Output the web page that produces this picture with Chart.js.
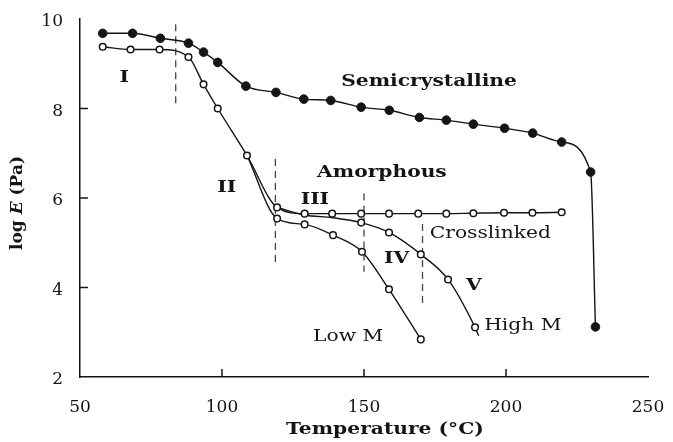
<!DOCTYPE html>
<html><head><meta charset="utf-8">
<script src="https://cdn.jsdelivr.net/npm/chart.js@4/dist/chart.umd.min.js"></script>
<style>html,body{margin:0;padding:0;background:#fff;}</style>
</head><body>
<canvas id="c" width="673" height="442"></canvas>
<script>
// ---- data (temperature in °C, log E in Pa) ----
const semiT    = [58, 68.5, 78.3, 88.2, 93.5, 98.5, 108.4, 119, 128.8, 138.3, 149, 158.9, 169.5, 179, 188.5, 199.5, 209.4, 219.6, 229.8, 231.5];
const semiLogE = [9.68, 9.68, 9.57, 9.46, 9.26, 9.03, 8.50, 8.36, 8.21, 8.18, 8.03, 7.96, 7.80, 7.74, 7.65, 7.56, 7.45, 7.25, 6.58, 3.12];

const amorphT    = [58, 67.8, 78, 88.2, 93.5, 98.5, 108.8, 119.4];
const amorphLogE = [9.38, 9.32, 9.32, 9.15, 8.54, 8.00, 6.95, 5.79];

const crossT    = [129.1, 138.8, 149, 158.8, 169.1, 179, 188.5, 199.3, 209.3, 219.6];
const crossLogE = [5.65, 5.65, 5.65, 5.65, 5.65, 5.65, 5.66, 5.67, 5.67, 5.68];

const lowMT    = [108.8, 119.4, 129.1, 139.1, 149.3, 158.8, 170.0];
const lowMLogE = [6.95, 5.54, 5.41, 5.17, 4.80, 3.96, 2.84];
const lowMMarked = [false, true, true, true, true, true, true];

const highMT    = [119.4, 129, 139, 149.0, 158.8, 170.0, 179.6, 189.1, 190.4];
const highMLogE = [5.79, 5.62, 5.56, 5.45, 5.23, 4.74, 4.18, 3.11, 2.92];
const highMMarked = [false, false, false, true, true, true, true, true, false];

// region boundaries (dashed)
const boundaryT      = [83.7, 118.8, 150.0, 170.6];
const boundaryTop    = [9.88, 6.87, 6.10, 5.42];
const boundaryBottom = [8.03, 4.54, 4.35, 3.57];

// tick values
const xTicks = [50, 100, 150, 200, 250];
const yTicks = [2, 4, 6, 8, 10];

// annotations (text, T, logE, bold)
const noteText = ['Semicrystalline', 'Amorphous', 'I', 'II', 'III', 'IV', 'V', 'Crosslinked', 'High M', 'Low M'];
const noteT    = [172.9, 156.3, 65.6, 101.7, 132.7, 161.5, 188.7, 194.5, 205.9, 144.4];
const noteLogE = [8.61, 6.57, 8.70, 6.24, 5.96, 4.64, 4.05, 5.21, 3.14, 2.90];
const noteBold = [true, true, true, true, true, true, true, false, false, false];

const xTitle = 'Temperature (°C)';
const yTitleParts = ['log ', 'E', ' (Pa)'];

const FONT = "'DejaVu Serif', serif";
const INK = '#151515';
const STRETCH = 1.19;

const pts = (xs, ys) => xs.map((v, i) => ({x: v, y: ys[i]}));

const datasets = [
  {data: pts(semiT, semiLogE), borderColor: INK, borderWidth: 1.4, pointRadius: 4.3,
   pointBackgroundColor: INK, pointBorderColor: INK, pointBorderWidth: 1, showLine: true,
   cubicInterpolationMode: 'monotone'},
  {data: pts(amorphT.concat(crossT), amorphLogE.concat(crossLogE)), borderColor: INK, borderWidth: 1.4,
   pointRadius: 3.3, pointBackgroundColor: '#fff', pointBorderColor: INK, pointBorderWidth: 1.5,
   showLine: true, cubicInterpolationMode: 'monotone'},
  {data: pts(lowMT, lowMLogE), borderColor: INK, borderWidth: 1.4,
   pointRadius: lowMMarked.map(m => m ? 3.3 : 0), pointBackgroundColor: '#fff', pointBorderColor: INK,
   pointBorderWidth: 1.5, showLine: true, cubicInterpolationMode: 'monotone'},
  {data: pts(highMT, highMLogE), borderColor: INK, borderWidth: 1.4,
   pointRadius: highMMarked.map(m => m ? 3.3 : 0), pointBackgroundColor: '#fff', pointBorderColor: INK,
   pointBorderWidth: 1.5, showLine: true, cubicInterpolationMode: 'monotone'}
];
boundaryT.forEach((t, i) => {
  datasets.push({data: [{x: t, y: boundaryTop[i]}, {x: t, y: boundaryBottom[i]}], borderColor: '#444',
    borderWidth: 1.3, borderDash: [7, 5], pointRadius: 0, showLine: true, order: 5});
});

function stretchedText(ctx, s, px, py, font) {
  ctx.save();
  ctx.font = font;
  ctx.translate(px, py);
  ctx.scale(STRETCH, 1);
  ctx.fillText(s, 0, 0);
  ctx.restore();
}

const annot = {
  id: 'annot',
  afterDatasetsDraw(chart) {
    const {ctx, scales: {x, y}} = chart;
    ctx.save();
    // inward tick marks
    ctx.strokeStyle = INK; ctx.lineWidth = 1.5;
    x.ticks.forEach(t => {
      if (t.value === x.min || t.value === x.max) return;
      const px = x.getPixelForValue(t.value);
      ctx.beginPath(); ctx.moveTo(px, y.bottom); ctx.lineTo(px, y.bottom - 8); ctx.stroke();
    });
    y.ticks.forEach(t => {
      if (t.value === y.min || t.value === y.max) return;
      const py = y.getPixelForValue(t.value);
      ctx.beginPath(); ctx.moveTo(x.left, py); ctx.lineTo(x.left + 8, py); ctx.stroke();
    });
    // notes
    ctx.fillStyle = INK; ctx.textAlign = 'center'; ctx.textBaseline = 'middle';
    noteText.forEach((s, i) => {
      stretchedText(ctx, s, x.getPixelForValue(noteT[i]), y.getPixelForValue(noteLogE[i]),
        (noteBold[i] ? 'bold ' : '') + '17px ' + FONT);
    });
    // x axis title
    stretchedText(ctx, xTitle, (x.left + x.right) / 2 + 21, y.bottom + 53, 'bold 17px ' + FONT);
    // y axis title: log E (Pa) with italic E
    const fonts = ['bold 17px ' + FONT, 'italic bold 17px ' + FONT, 'bold 17px ' + FONT];
    let total = 0;
    yTitleParts.forEach((p, i) => { ctx.font = fonts[i]; total += ctx.measureText(p).width; });
    ctx.translate(18, (y.top + y.bottom) / 2 + 5);
    ctx.rotate(-Math.PI / 2);
    ctx.textAlign = 'left';
    let cx = -total / 2;
    yTitleParts.forEach((p, i) => { ctx.font = fonts[i]; ctx.fillText(p, cx, 0); cx += ctx.measureText(p).width; });
    ctx.restore();
  }
};

new Chart(document.getElementById('c'), {
  type: 'scatter',
  data: {datasets},
  plugins: [annot],
  options: {
    responsive: false, animation: false, devicePixelRatio: 1,
    layout: {padding: {left: 0, right: 25, top: 19, bottom: 0}},
    plugins: {legend: {display: false}, tooltip: {enabled: false}},
    scales: {
      x: {type: 'linear', min: 50, max: 250,
        afterBuildTicks: s => { s.ticks = xTicks.map(v => ({value: v})); },
        afterFit: s => { s.height = 65; s.paddingLeft = 0; s.paddingRight = 0; },
        grid: {display: false, drawTicks: false},
        border: {display: true, color: INK, width: 1.5},
        ticks: {font: {family: FONT, size: 17}, color: INK, padding: 20, maxRotation: 0}
      },
      y: {type: 'linear', min: 2, max: 10,
        afterBuildTicks: s => { s.ticks = yTicks.map(v => ({value: v})); },
        afterFit: s => { s.width = 80; s.paddingTop = 0; s.paddingBottom = 0; },
        grid: {display: false, drawTicks: false},
        border: {display: true, color: INK, width: 1.5},
        ticks: {font: {family: FONT, size: 17}, color: INK, padding: 17, labelOffset: 3}
      }
    }
  }
});
</script>
</body></html>
